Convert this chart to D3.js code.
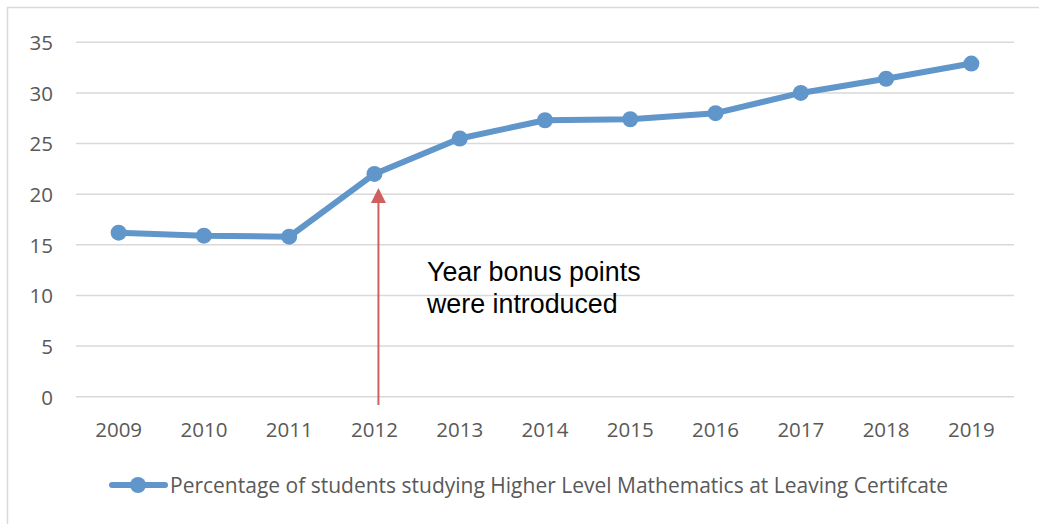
<!DOCTYPE html>
<html><head><meta charset="utf-8">
<script src="https://cdn.jsdelivr.net/npm/d3@7"></script>
<style>body{margin:0;background:#fff}svg{display:block}</style>
</head><body>
<script>
const years = ["2009","2010","2011","2012","2013","2014","2015","2016","2017","2018","2019"];
const values = [16.2, 15.9, 15.8, 22.0, 25.5, 27.3, 27.4, 28.0, 30.0, 31.4, 32.9];
const yTicks = [0,5,10,15,20,25,30,35];
const seriesName = "Percentage of students studying Higher Level Mathematics at Leaving Certifcate";
const annotationLines = ["Year bonus points", "were introduced"];
const annotationYear = "2012";

const W = 1039, H = 524;
const svg = d3.select("body").append("svg").attr("width", W).attr("height", H);
const font = "'Open Sans', 'Liberation Sans', sans-serif";
const blue = "#6096c9";

svg.append("rect").attr("x",7.5).attr("y",7.5).attr("width",W).attr("height",H)
  .attr("fill","none").attr("stroke","#d9d9d9").attr("stroke-width",1.5);

const x = d3.scaleBand().domain(years).range([76,1014]);
const y = d3.scaleLinear().domain([0,35]).range([396.7,42.3]);

// gridlines
svg.append("g").selectAll("line").data(yTicks).join("line")
  .attr("x1",76).attr("x2",1014).attr("y1",d=>y(d)).attr("y2",d=>y(d))
  .attr("stroke","#d9d9d9").attr("stroke-width",1.5);

// y axis
const ya = svg.append("g").attr("transform","translate(53,0)")
  .call(d3.axisLeft(y).tickValues(yTicks).tickSize(0).tickPadding(0));
ya.select(".domain").remove();
ya.selectAll("text").attr("font-family",font).attr("font-size",20.5).attr("fill","#595959").attr("dy","0.36em");

// x axis
const xa = svg.append("g").attr("transform","translate(0,416)")
  .call(d3.axisBottom(x).tickSize(0).tickPadding(0));
xa.select(".domain").remove();
xa.selectAll("text").attr("font-family",font).attr("font-size",20.5).attr("fill","#595959").attr("dy","1.0em");

const cx = d => x(d) + x.bandwidth()/2;

// line
svg.append("path").datum(values)
  .attr("d", d3.line().x((d,i)=>cx(years[i])).y(d=>y(d)))
  .attr("fill","none").attr("stroke",blue).attr("stroke-width",6).attr("stroke-linejoin","round");
svg.append("g").selectAll("circle").data(values).join("circle")
  .attr("cx",(d,i)=>cx(years[i])).attr("cy",d=>y(d)).attr("r",8).attr("fill",blue);

// arrow
const ax = cx(annotationYear) + 4;
const red = "#d0605e";
svg.append("line").attr("x1",ax).attr("x2",ax).attr("y1",405).attr("y2",200)
  .attr("stroke",red).attr("stroke-width",2);
svg.append("path").attr("d",`M${ax-7.5},203 L${ax+7.5},203 L${ax},188 Z`).attr("fill",red);

// annotation
const t = svg.append("text").attr("font-family","'Liberation Sans', Arial, sans-serif")
  .attr("font-size",26.8).attr("fill","#000");
annotationLines.forEach((l,i)=>t.append("tspan").attr("x",427).attr("y",281+i*31.5).text(l));

// legend
const lg = svg.append("g");
lg.append("line").attr("x1",112).attr("x2",165).attr("y1",485).attr("y2",485)
  .attr("stroke",blue).attr("stroke-width",6).attr("stroke-linecap","round");
lg.append("circle").attr("cx",138).attr("cy",485).attr("r",8).attr("fill",blue);
lg.append("text").attr("x",170).attr("y",485).attr("dy","0.36em")
  .attr("font-family",font).attr("font-size",21).attr("fill","#595959").text(seriesName);
</script>
</body></html>
